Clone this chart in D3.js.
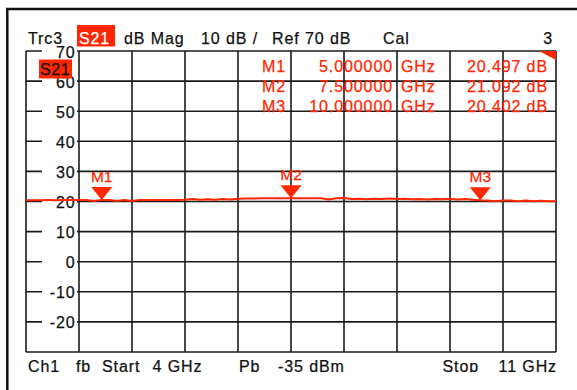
<!DOCTYPE html>
<html>
<head>
<meta charset="utf-8">
<script src="https://cdn.jsdelivr.net/npm/d3@7"></script>
<style>
  html, body { margin: 0; padding: 0; background: #fff; }
  svg { display: block; font-family: "Liberation Sans", Arial, sans-serif; }
</style>
</head>
<body>
<svg id="chart" width="577" height="390"></svg>
<script>
// Sweep: S21 magnitude (dB) vs frequency (GHz)
const freqGHz = [
  4.0, 4.1, 4.2, 4.3, 4.4, 4.5, 4.6, 4.7, 4.8, 4.9,
  5.0, 5.1, 5.2, 5.3, 5.4, 5.5, 5.6, 5.7, 5.8, 5.9,
  6.0, 6.1, 6.2, 6.3, 6.4, 6.5, 6.6, 6.7, 6.8, 6.9,
  7.0, 7.1, 7.2, 7.3, 7.4, 7.5, 7.6, 7.7, 7.8, 7.9,
  8.0, 8.1, 8.2, 8.3, 8.4, 8.5, 8.6, 8.7, 8.8, 8.9,
  9.0, 9.1, 9.2, 9.3, 9.4, 9.5, 9.6, 9.7, 9.8, 9.9,
  10.0, 10.1, 10.2, 10.3, 10.4, 10.5, 10.6, 10.7, 10.8, 10.9, 11.0
];
const s21dB = [
  20.45, 20.45, 20.44, 20.46, 20.45, 20.47, 20.46, 20.48, 20.47, 20.20,
  20.497, 20.48, 20.20, 20.47, 20.15, 20.48, 20.50, 20.50, 20.52, 20.50,
  20.52, 20.55, 20.85, 20.55, 20.75, 20.60, 20.80, 20.65, 20.95, 21.00,
  21.02, 21.05, 21.05, 21.07, 21.08, 21.092, 21.08, 21.07, 21.05, 21.05,
  20.70, 21.05, 21.15, 20.80, 20.95, 20.75, 20.90, 20.85, 21.00, 20.80,
  20.90, 20.75, 20.85, 20.70, 20.85, 20.75, 20.90, 20.70, 20.80, 20.60,
  20.402, 20.35, 20.10, 20.35, 20.30, 20.05, 20.30, 20.10, 20.25, 20.05, 20.10
];

// Markers
const markerNames = ["M1", "M2", "M3"];
const markerFreq = [5.0, 7.5, 10.0];
const markerFreqText = ["5.000000", "7.500000", "10.000000"];
const markerValue = [20.497, 21.092, 20.402];
const markerValueText = ["20.497", "21.092", "20.402"];

// Axis settings
const yTickLabels = [70, 60, 50, 40, 30, 20, 10, 0, -10, -20];
const yDomain = [-30, 70];
const xDomain = [4, 11];
const xDivisions = 10;

const RED = "#ff2600";
const svg = d3.select("#chart");

const x = d3.scaleLinear().domain(xDomain).range([26, 556]);
const y = d3.scaleLinear().domain(yDomain).range([352, 51]);

// Outer window frame
svg.append("line").attr("x1", 6).attr("x2", 577).attr("y1", 9).attr("y2", 9)
  .attr("stroke", "#111").attr("stroke-width", 2.5);
svg.append("line").attr("x1", 7.3).attr("x2", 7.3).attr("y1", 8).attr("y2", 390)
  .attr("stroke", "#111").attr("stroke-width", 2.5);

const txt = { "font-size": "16px", "letter-spacing": "0.9px", fill: "#111", stroke: "#111", "stroke-width": "0.25px" };
function addText(g, s, xx, yy, opts) {
  const t = g.append("text").attr("x", xx).attr("y", yy).text(s);
  const o = Object.assign({}, txt, opts || {});
  if (opts && opts.fill && !opts.stroke) o.stroke = opts.fill;
  Object.entries(o).forEach(([k, v]) => t.style(k, v));
  return t;
}

// Header line
addText(svg, "Trc3", 28, 43.5);
svg.append("rect").attr("x", 77).attr("y", 25).attr("width", 38).attr("height", 21.5).attr("fill", RED);
addText(svg, "S21", 79, 43.5, { fill: "#fff" });
addText(svg, "dB Mag", 124, 43.5);
addText(svg, "10 dB /", 201, 43.5);
addText(svg, "Ref 70 dB", 272, 43.5);
addText(svg, "Cal", 383, 43.5);
addText(svg, "3", 553, 43.5, { "text-anchor": "end" });

// Grid
const grid = svg.append("g").attr("stroke", "#1a1a1a").attr("stroke-width", 1.6);
const xTicks = d3.range(xDivisions + 1).map(i => xDomain[0] + i * (xDomain[1] - xDomain[0]) / xDivisions);
grid.selectAll("line.v").data(xTicks).join("line").attr("class", "v")
  .attr("x1", d => x(d)).attr("x2", d => x(d)).attr("y1", y(70)).attr("y2", y(-30));
const yTicks = d3.range(yDomain[0], yDomain[1] + 1, 10);
grid.selectAll("line.h").data(yTicks).join("line").attr("class", "h")
  .attr("x1", x(4)).attr("x2", x(11)).attr("y1", d => y(d)).attr("y2", d => y(d));

// Y tick labels sit on the grid lines inside the first column
const yl = svg.append("g");
yTickLabels.forEach(v => {
  yl.append("rect").attr("x", 42).attr("y", y(v) - 7).attr("width", 35).attr("height", 14).attr("fill", "#fff");
  addText(yl, String(v), 75.5, y(v) + 6.5, { "text-anchor": "end" });
});

// Trace label box
svg.append("rect").attr("x", 39).attr("y", 59.5).attr("width", 33).attr("height", 19).attr("fill", RED);
addText(svg, "S21", 40, 75, { "letter-spacing": "0.6px" });

// Corner flag
svg.append("path").attr("d", `M539,${y(70)}L${x(11)},${y(70)}L${x(11)},${y(70) + 9}Z`).attr("fill", RED);

// Trace
const data = freqGHz.map((f, i) => ({ f, v: s21dB[i] }));
svg.append("path").datum(data)
  .attr("fill", "none").attr("stroke", RED).attr("stroke-width", 2).attr("stroke-linejoin", "round")
  .attr("d", d3.line().x(d => x(d.f)).y(d => y(d.v)));

// Markers on trace
const mk = svg.append("g");
markerNames.forEach((name, i) => {
  const mx = x(markerFreq[i]), my = y(markerValue[i]);
  mk.append("path").attr("d", `M${mx},${my}L${mx - 10.5},${my - 13}L${mx + 10.5},${my - 13}Z`).attr("fill", RED);
  addText(mk, name, mx, my - 18.5, { "text-anchor": "middle", fill: RED, "font-size": "15.5px", "letter-spacing": "0px" });
});

// Marker readout table
const tb = svg.append("g");
markerNames.forEach((name, i) => {
  const by = 71.5 + i * 20;
  addText(tb, name, 262, by, { fill: RED });
  addText(tb, markerFreqText[i], 393, by, { fill: RED, "text-anchor": "end" });
  addText(tb, "GHz", 401, by, { fill: RED });
  addText(tb, markerValueText[i] + " dB", 548, by, { fill: RED, "text-anchor": "end" });
});

// Footer (clipped at the window edge)
svg.append("clipPath").attr("id", "foot").append("rect").attr("x", 0).attr("y", 340).attr("width", 577).attr("height", 32.3);
const ft = svg.append("g").attr("clip-path", "url(#foot)");
addText(ft, "Ch1", 28, 372);
addText(ft, "fb", 76, 372);
addText(ft, "Start", 102, 372);
addText(ft, "4 GHz", 152.5, 372);
addText(ft, "Pb", 239, 372);
addText(ft, "-35 dBm", 278, 372);
addText(ft, "Stop", 442.5, 372);
addText(ft, "11 GHz", 557, 372, { "text-anchor": "end" });
</script>
</body>
</html>
